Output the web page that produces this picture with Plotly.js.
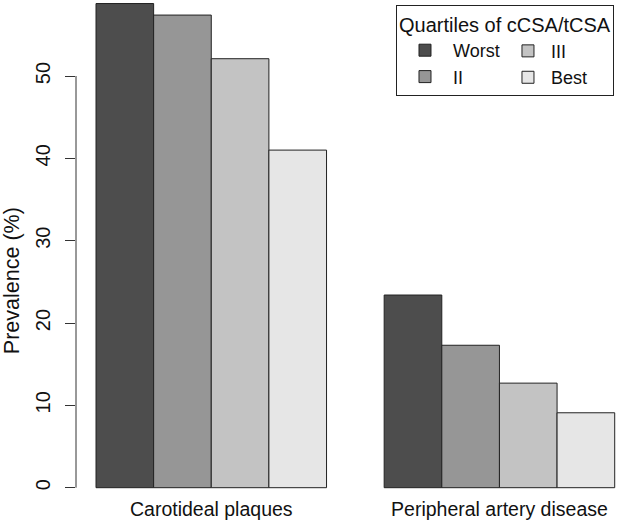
<!DOCTYPE html>
<html>
<head>
<meta charset="utf-8">
<script src="https://cdn.plot.ly/plotly-3.0.1.min.js"></script>
<style>html,body{margin:0;padding:0;background:#fff;}#chart{width:619px;height:525px;}</style>
</head>
<body>
<div id="chart"></div>
<script>
// Data
var categories = ['Carotideal plaques', 'Peripheral artery disease'];
var quartileNames = ['Worst', 'II', 'III', 'Best'];
var worstValues = [58.8, 23.4];
var iiValues = [57.4, 17.3];
var iiiValues = [52.1, 12.7];
var bestValues = [41.0, 9.1];
var yTicks = [0, 10, 20, 30, 40, 50];

var seriesValues = [worstValues, iiValues, iiiValues, bestValues];
var colors = ['#4D4D4D', '#969696', '#C3C3C3', '#E6E6E6'];
var legendIds = ['legend', 'legend', 'legend2', 'legend2'];

var FONT = 'Liberation Sans, Arial, Helvetica, sans-serif';

var traces = quartileNames.map(function (name, i) {
  return {
    type: 'bar',
    name: name,
    x: categories,
    y: seriesValues[i],
    marker: {color: colors[i], line: {color: '#222222', width: 1}},
    legend: legendIds[i],
    hoverinfo: 'x+y+name'
  };
});

var layout = {
  width: 619,
  height: 525,
  margin: {l: 76, r: 0, t: 0, b: 30, pad: 0},
  paper_bgcolor: '#ffffff',
  plot_bgcolor: '#ffffff',
  font: {family: FONT, size: 19, color: '#111111'},
  barmode: 'group',
  bargap: 0.2,
  bargroupgap: 0,
  xaxis: {
    range: [-0.4694, 1.4149],
    showgrid: false,
    zeroline: false,
    showline: false,
    ticks: '',
    tickfont: {family: FONT, size: 19.5, color: '#111111'}
  },
  yaxis: {
    range: [-0.887, 59.23],
    tickvals: yTicks,
    ticktext: yTicks.map(String),
    tickangle: -90,
    ticks: 'outside',
    ticklen: 10,
    tickwidth: 1,
    tickcolor: '#333333',
    ticklabelstandoff: 7,
    showgrid: false,
    zeroline: false,
    showline: false,
    tickfont: {family: FONT, size: 20, color: '#111111'}
  },
  shapes: [{
    type: 'line',
    xref: 'paper', x0: 0, x1: 0,
    yref: 'y', y0: yTicks[0], y1: yTicks[yTicks.length - 1],
    line: {color: '#333333', width: 1}
  }],
  annotations: [{
    text: 'Prevalence (%)',
    xref: 'paper', yref: 'paper',
    x: -0.1179, y: 0.434,
    xanchor: 'center', yanchor: 'middle',
    textangle: -90,
    showarrow: false,
    font: {family: FONT, size: 21.5, color: '#111111'}
  }],
  showlegend: true,
  legend: {
    x: 0.5893, y: 0.9899, xanchor: 'left', yanchor: 'top',
    orientation: 'v',
    bgcolor: '#ffffff',
    bordercolor: '#222222',
    borderwidth: 1,
    itemwidth: 46,
    font: {family: FONT, size: 18, color: '#111111'},
    title: {text: 'Quartiles of cCSA/tCSA', font: {family: FONT, size: 20, color: '#111111'}},
    itemclick: false, itemdoubleclick: false
  },
  legend2: {
    x: 0.790, y: 0.934, xanchor: 'left', yanchor: 'top',
    orientation: 'v',
    bgcolor: 'rgba(0,0,0,0)',
    borderwidth: 0,
    itemwidth: 36,
    font: {family: FONT, size: 18, color: '#111111'},
    itemclick: false, itemdoubleclick: false
  }
};

Plotly.newPlot('chart', traces, layout, {staticPlot: true, displayModeBar: false});
</script>
</body>
</html>
